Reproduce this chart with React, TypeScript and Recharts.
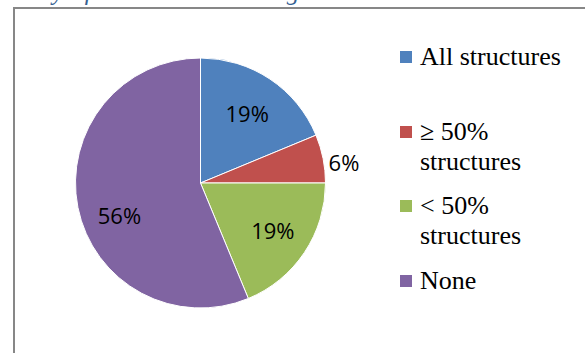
import { PieChart, Pie, Cell, Legend } from "recharts";

const CATEGORIES = ["All structures", "\u2265 50% structures", "< 50% structures", "None"];
const SHARES = [18.75, 6.25, 18.75, 56.25];
const COLORS = ["#4F81BD", "#C0504D", "#9BBB59", "#8064A2"];

const data = CATEGORIES.map((name, i) => ({ name, value: SHARES[i] }));

const RAD = Math.PI / 180;
// label placement, roughly as Excel's best fit put them
const LABEL_R = [84, 145, 86, 87];
const LABEL_NUDGE = [0, -3, 1, 10];

const SERIF = "'Liberation Serif', 'Times New Roman', 'DejaVu Serif', serif";

const renderLabel = (props: any) => {
  const { cx, cy, midAngle, index, percent } = props;
  const a = (midAngle + LABEL_NUDGE[index]) * RAD;
  const x = cx + LABEL_R[index] * Math.cos(-a);
  const y = cy + LABEL_R[index] * Math.sin(-a);
  return (
    <text
      x={x}
      y={y}
      fill="#000"
      textAnchor="middle"
      dominantBaseline="central"
      fontFamily="'Open Sans', sans-serif"
      fontSize={22}
    >
      {`${Math.round(percent * 100)}%`}
    </text>
  );
};

// keep the legend in data order (recharts sorts it by default)
const renderLegend = () => (
  <div style={{ fontFamily: SERIF, fontSize: 26, lineHeight: "30px" }}>
    {CATEGORIES.map((name, i) => (
      <div key={`leg-${i}`} style={{ display: "flex", alignItems: "flex-start", height: 74.5 }}>
        <div
          style={{
            width: 12,
            height: 12,
            background: COLORS[i],
            marginTop: 9,
            marginRight: 8,
            flexShrink: 0,
          }}
        />
        <div style={{ width: 155, color: "#000", fontFamily: SERIF }}>{name}</div>
      </div>
    ))}
  </div>
);

export default function App() {
  return (
    <div
      style={{
        position: "absolute",
        left: 0,
        top: 0,
        width: 585,
        height: 353,
        overflow: "hidden",
        background: "#fff",
      }}
    >
      <div
        style={{
          position: "absolute",
          left: 15,
          top: -22,
          fontFamily: SERIF,
          fontStyle: "italic",
          fontSize: 25,
          lineHeight: "28px",
          color: "#365F91",
          whiteSpace: "nowrap",
        }}
      >
        Only After a Public Hearing
      </div>
      <div
        style={{
          position: "absolute",
          left: 13,
          top: 7,
          width: 600,
          height: 400,
          borderLeft: "2px solid #878787",
          borderTop: "2px solid #878787",
        }}
      />
      <div style={{ position: "absolute", left: 0, top: 0 }}>
        <PieChart width={585} height={353} margin={{ top: 0, right: 0, bottom: 0, left: 0 }}>
          <Pie
            data={data}
            dataKey="value"
            nameKey="name"
            cx={200.5}
            cy={183}
            outerRadius={125}
            startAngle={90}
            endAngle={-270}
            stroke="#fff"
            strokeWidth={1}
            label={renderLabel}
            labelLine={false}
            isAnimationActive={false}
          >
            {data.map((_, i) => (
              <Cell key={`cell-${i}`} fill={COLORS[i]} />
            ))}
          </Pie>
          <Legend
            layout="vertical"
            align="right"
            verticalAlign="top"
            content={renderLegend}
            wrapperStyle={{ left: 400, top: 42, width: 185 }}
          />
        </PieChart>
      </div>
    </div>
  );
}
